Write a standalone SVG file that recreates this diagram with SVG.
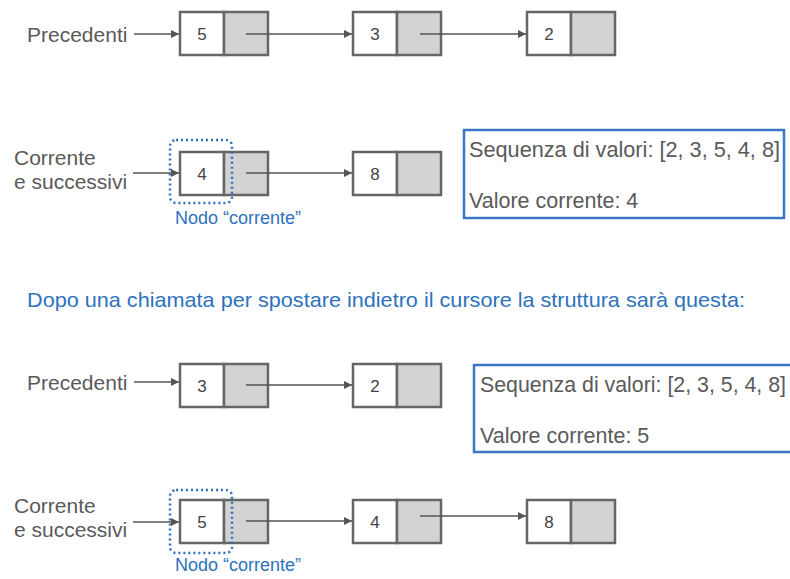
<svg xmlns="http://www.w3.org/2000/svg" width="790" height="579" viewBox="0 0 790 579">
  <style>
    .lbl { font-family: "Liberation Sans", Arial, sans-serif; font-size: 21px; fill: #5a5a5a; }
    .box { font-size: 21.5px; }
    .num { font-family: "Liberation Sans", Arial, sans-serif; font-size: 17px; fill: #444; text-anchor: middle; }
    .blue { font-family: "Liberation Sans", Arial, sans-serif; fill: #2e72bd; }
    .val { fill: #ffffff; stroke: #666; stroke-width: 2.5; }
    .ptr { fill: #d3d3d3; stroke: #666; stroke-width: 2.5; }
    .info { fill: #ffffff; stroke: #3a78c4; stroke-width: 2.5; }
    .cur { fill: none; stroke: #2e72bd; stroke-width: 2.5; stroke-dasharray: 2 3; }
    .link { stroke: #555; stroke-width: 1.5; fill: none; marker-end: url(#head); }
  </style>
  <defs>
    <marker id="head" viewBox="0 0 10 10" refX="10" refY="5" markerWidth="8" markerHeight="8" markerUnits="userSpaceOnUse" orient="auto">
      <path d="M0,0 L10,5 L0,10 z" fill="#555"/>
    </marker>
  </defs>

  <rect width="790" height="579" fill="#ffffff"/>

  <!-- labels -->
  <g id="labels">
    <text class="lbl" x="27" y="42">Precedenti</text>
    <text class="lbl" x="14" y="165">Corrente</text>
    <text class="lbl" x="14" y="189">e successivi</text>
    <text class="blue" x="27" y="307" font-size="21" textLength="718" lengthAdjust="spacingAndGlyphs">Dopo una chiamata per spostare indietro il cursore la struttura sarà questa:</text>
    <text class="lbl" x="27" y="390">Precedenti</text>
    <text class="lbl" x="14" y="513">Corrente</text>
    <text class="lbl" x="14" y="537">e successivi</text>
  </g>

  <!-- section 1: previous list 5 -> 3 -> 2 -->
  <g id="n1-5"><rect class="val" x="180" y="12" width="44" height="43"/><rect class="ptr" x="224" y="12" width="44" height="43"/><text class="num" x="202" y="40">5</text></g>
  <g id="n1-3"><rect class="val" x="353" y="12" width="44" height="43"/><rect class="ptr" x="397" y="12" width="44" height="43"/><text class="num" x="375" y="40">3</text></g>
  <g id="n1-2"><rect class="val" x="527" y="12" width="44" height="43"/><rect class="ptr" x="571" y="12" width="44" height="43"/><text class="num" x="549" y="40">2</text></g>

  <!-- section 1: current list 4 -> 8 -->
  <g id="n2-4"><rect class="val" x="180" y="152" width="44" height="43"/><rect class="ptr" x="224" y="152" width="44" height="43"/><text class="num" x="202" y="180">4</text></g>
  <g id="n2-8"><rect class="val" x="353" y="152" width="44" height="43"/><rect class="ptr" x="397" y="152" width="44" height="43"/><text class="num" x="375" y="180">8</text></g>
  <g id="cur1">
    <rect class="cur" x="170" y="140" width="62" height="63" rx="6"/>
    <text class="blue" x="175" y="224" font-size="18">Nodo “corrente”</text>
  </g>
  <g id="info1">
    <rect class="info" x="464" y="130" width="320" height="88"/>
    <text class="lbl box" x="469" y="157" textLength="311" lengthAdjust="spacingAndGlyphs">Sequenza di valori: [2, 3, 5, 4, 8]</text>
    <text class="lbl box" x="469" y="208">Valore corrente: 4</text>
  </g>

  <!-- section 2: previous list 3 -> 2 -->
  <g id="n3-3"><rect class="val" x="180" y="364" width="44" height="43"/><rect class="ptr" x="224" y="364" width="44" height="43"/><text class="num" x="202" y="392">3</text></g>
  <g id="n3-2"><rect class="val" x="353" y="364" width="44" height="43"/><rect class="ptr" x="397" y="364" width="44" height="43"/><text class="num" x="375" y="392">2</text></g>
  <g id="info2">
    <rect class="info" x="474" y="365" width="330" height="87"/>
    <text class="lbl box" x="480" y="392" textLength="306" lengthAdjust="spacingAndGlyphs">Sequenza di valori: [2, 3, 5, 4, 8]</text>
    <text class="lbl box" x="480" y="443">Valore corrente: 5</text>
  </g>

  <!-- section 2: current list 5 -> 4 -> 8 -->
  <g id="n4-5"><rect class="val" x="180" y="500" width="44" height="43"/><rect class="ptr" x="224" y="500" width="44" height="43"/><text class="num" x="202" y="528">5</text></g>
  <g id="n4-4"><rect class="val" x="353" y="500" width="44" height="43"/><rect class="ptr" x="397" y="500" width="44" height="43"/><text class="num" x="375" y="528">4</text></g>
  <g id="n4-8"><rect class="val" x="527" y="500" width="44" height="43"/><rect class="ptr" x="571" y="500" width="44" height="43"/><text class="num" x="549" y="528">8</text></g>
  <g id="cur2">
    <rect class="cur" x="170" y="490" width="62" height="63" rx="6"/>
    <text class="blue" x="175" y="571" font-size="18">Nodo “corrente”</text>
  </g>

  <!-- connectors -->
  <g id="connectors">
    <line class="link" x1="134" y1="34" x2="179" y2="34"/>
    <line class="link" x1="246" y1="34" x2="352" y2="34"/>
    <line class="link" x1="420" y1="34" x2="526" y2="34"/>
    <line class="link" x1="133" y1="173" x2="179" y2="173"/>
    <line class="link" x1="246" y1="173" x2="352" y2="173"/>
    <line class="link" x1="134" y1="382" x2="179" y2="382"/>
    <line class="link" x1="246" y1="385" x2="352" y2="385"/>
    <line class="link" x1="133" y1="522" x2="179" y2="522"/>
    <line class="link" x1="246" y1="521" x2="352" y2="521"/>
    <line class="link" x1="420" y1="516" x2="526" y2="516"/>
  </g>
</svg>
